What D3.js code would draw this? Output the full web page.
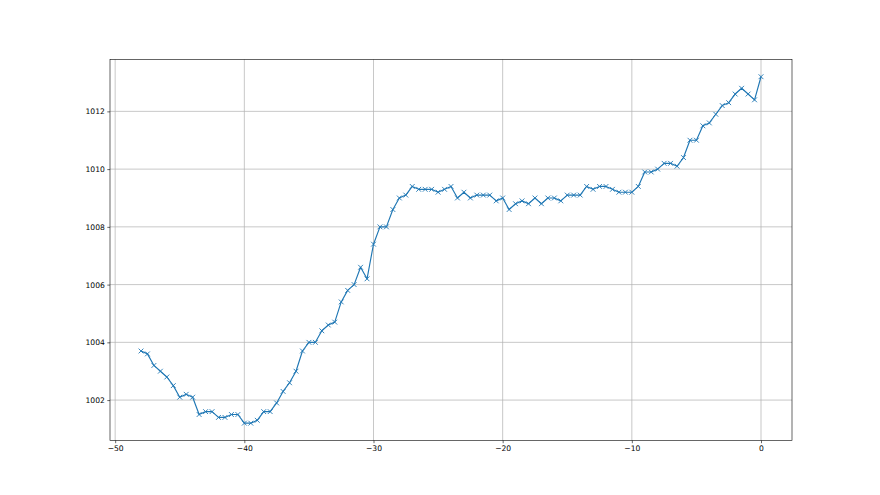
<!DOCTYPE html>
<html>
<head>
<meta charset="utf-8">
<script src="https://cdn.jsdelivr.net/npm/d3@7"></script>
<style>
  body { margin: 0; background: #fff; }
  svg { display: block; }
  .tick text { font-family: "DejaVu Sans", sans-serif; font-size: 7.6px; fill: #000; }
</style>
</head>
<body>
<script>
// hours before now (step 0.5) and pressure readings in hPa
const hours = d3.range(-48, 0.01, 0.5);
const pressure = [
  1003.7, 1003.6, 1003.2, 1003.0, 1002.8, 1002.5, 1002.1, 1002.2, 1002.1, 1001.5,
  1001.6, 1001.6, 1001.4, 1001.4, 1001.5, 1001.5, 1001.2, 1001.2, 1001.3, 1001.6,
  1001.6, 1001.9, 1002.3, 1002.6, 1003.0, 1003.7, 1004.0, 1004.0, 1004.4, 1004.6,
  1004.7, 1005.4, 1005.8, 1006.0, 1006.6, 1006.2, 1007.4, 1008.0, 1008.0, 1008.6,
  1009.0, 1009.1, 1009.4, 1009.3, 1009.3, 1009.3, 1009.2, 1009.3, 1009.4, 1009.0,
  1009.2, 1009.0, 1009.1, 1009.1, 1009.1, 1008.9, 1009.0, 1008.6, 1008.8, 1008.9,
  1008.8, 1009.0, 1008.8, 1009.0, 1009.0, 1008.9, 1009.1, 1009.1, 1009.1, 1009.4,
  1009.3, 1009.4, 1009.4, 1009.3, 1009.2, 1009.2, 1009.2, 1009.4, 1009.9, 1009.9,
  1010.0, 1010.2, 1010.2, 1010.1, 1010.4, 1011.0, 1011.0, 1011.5, 1011.6, 1011.9,
  1012.2, 1012.3, 1012.6, 1012.8, 1012.6, 1012.4, 1013.2
];
const xTicks = [-50, -40, -30, -20, -10, 0];
const yTicks = [1002, 1004, 1006, 1008, 1010, 1012];

const width = 880, height = 495;
const margin = { top: 59.4, right: 88, bottom: 54.5, left: 110 };

const data = hours.map((h, i) => ({ h, p: pressure[i] }));

// matplotlib-style 5% padding around the data
const xExt = d3.extent(hours), yExt = d3.extent(pressure);
const xPad = (xExt[1] - xExt[0]) * 0.05, yPad = (yExt[1] - yExt[0]) * 0.05;

const x = d3.scaleLinear()
  .domain([xExt[0] - xPad, xExt[1] + xPad])
  .range([margin.left, width - margin.right]);
const y = d3.scaleLinear()
  .domain([yExt[0] - yPad, yExt[1] + yPad])
  .range([height - margin.bottom, margin.top]);

const svg = d3.select('body').append('svg')
  .attr('width', width)
  .attr('height', height);

// grid
svg.append('g')
  .selectAll('line')
  .data(xTicks)
  .join('line')
  .attr('x1', d => x(d)).attr('x2', d => x(d))
  .attr('y1', margin.top).attr('y2', height - margin.bottom)
  .attr('stroke', '#b0b0b0').attr('stroke-width', 0.7);
svg.append('g')
  .selectAll('line')
  .data(yTicks)
  .join('line')
  .attr('y1', d => y(d)).attr('y2', d => y(d))
  .attr('x1', margin.left).attr('x2', width - margin.right)
  .attr('stroke', '#b0b0b0').attr('stroke-width', 0.7);

// series
const line = d3.line().x(d => x(d.h)).y(d => y(d.p));
svg.append('path')
  .datum(data)
  .attr('d', line)
  .attr('fill', 'none')
  .attr('stroke', '#1f77b4')
  .attr('stroke-width', 1.15)
  .attr('stroke-linejoin', 'round');

const m = 2.4;
svg.append('g')
  .selectAll('path')
  .data(data)
  .join('path')
  .attr('d', d => {
    const cx = x(d.h), cy = y(d.p);
    return `M${cx - m},${cy - m}L${cx + m},${cy + m}M${cx - m},${cy + m}L${cx + m},${cy - m}`;
  })
  .attr('stroke', '#1f77b4')
  .attr('stroke-width', 0.9);

// axes
const xAxis = svg.append('g')
  .attr('transform', `translate(0,${height - margin.bottom})`)
  .call(d3.axisBottom(x).tickValues(xTicks).tickSize(2.7).tickPadding(2.5)
    .tickFormat(d => d < 0 ? '\u2212' + Math.abs(d) : d));
const yAxis = svg.append('g')
  .attr('transform', `translate(${margin.left},0)`)
  .call(d3.axisLeft(y).tickValues(yTicks).tickSize(2.7).tickPadding(2.5)
    .tickFormat(d3.format('d')));
[xAxis, yAxis].forEach(a => {
  a.select('.domain').remove();
  a.selectAll('.tick line').attr('stroke', '#000').attr('stroke-width', 0.6);
});

// frame
svg.append('rect')
  .attr('x', margin.left).attr('y', margin.top)
  .attr('width', width - margin.left - margin.right)
  .attr('height', height - margin.top - margin.bottom)
  .attr('fill', 'none')
  .attr('stroke', '#000')
  .attr('stroke-width', 0.6);
</script>
</body>
</html>
